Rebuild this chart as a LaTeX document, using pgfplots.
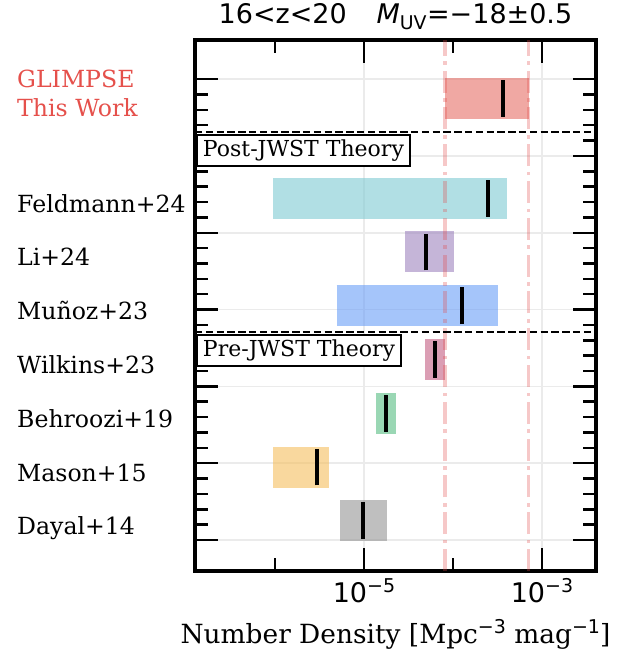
\documentclass[border=0pt]{standalone}
\usepackage{pgfplots}
\pgfplotsset{compat=1.18}
\usepackage{fontspec}
\setmainfont{DejaVu Serif}
\newfontfamily\dvs{DejaVu Sans}
\definecolor{cGL}{RGB}{230,110,102}
\definecolor{cFe}{RGB}{125,202,210}
\definecolor{cLi}{RGB}{158,132,190}
\definecolor{cMu}{RGB}{105,158,247}
\definecolor{cWi}{RGB}{195,93,130}
\definecolor{cBe}{RGB}{87,188,130}
\definecolor{cMa}{RGB}{245,190,93}
\definecolor{cDa}{RGB}{148,148,148}
\definecolor{cRedL}{RGB}{225,72,72}
\definecolor{cTxt}{RGB}{229,80,75}
\newcommand\sups[1]{\raisebox{0.37em}{\dvs\fontsize{19}{19}\selectfont #1}}
\begin{document}
\begin{tikzpicture}
\useasboundingbox (0,0) rectangle (634pt,649pt);
\begin{axis}[
  at={(195pt,78pt)}, anchor=south west,
  scale only axis, width=401pt, height=531pt,
  xmode=log, xmin=1.262e-7, xmax=4.046e-3,
  ymin=-0.404, ymax=6.51,
  xtick={1e-5,1e-3},
  xticklabels={{10\sups{−5}},{10\sups{−3}}},
  minor xtick={1e-6,1e-4},
  ytick={0,1,2,3,4,5,6},
  yticklabels={},
  minor y tick num=4,
  xtick pos=both, ytick pos=both,
  tick align=inside,
  major tick length=23pt, minor tick length=13pt,
  tick style={black, line width=2.5pt},
  axis line style={line width=4pt},
  xmajorgrids, ymajorgrids,
  grid style={color=black!8, line width=1.6pt},
  xticklabel style={font=\dvs\fontsize{27}{32}\selectfont, anchor=base, yshift=-31pt, inner sep=0pt},
  extra y ticks={0.25,0.95,1.65,2.35,3.05,3.75,4.45,6.08,5.69},
  extra y tick labels={Dayal+14,Mason+15,Behroozi+19,Wilkins+23,Muñoz+23,Li+24,Feldmann+24,\textcolor{cTxt}{GLIMPSE},\textcolor{cTxt}{This Work}},
  extra y tick style={major tick length=0pt, grid=none,
    yticklabel style={font=\fontsize{23.6}{28}\selectfont, anchor=base west, xshift=-178pt, yshift=-14pt, inner sep=0pt}},
  title={16<z<20\hspace{1.1em}\textit{M}\textsubscript{UV}=−18±0.5},
  title style={font=\dvs\fontsize{27}{32}\selectfont, at={(axis description cs:0.5,1)}, anchor=base, yshift=10pt, inner sep=0pt},
  xlabel={Number Density [Mpc\sups{−3} mag\sups{−1}]},
  xlabel style={font=\fontsize{26.4}{32}\selectfont, at={(axis description cs:0.5,0)}, anchor=base, yshift=-72pt, inner sep=0pt},
]
% bars: (low, y) -- (high, y)
\addplot[cGL, line width=41pt, draw opacity=0.6] coordinates {(8.13e-5,5.75) (7.08e-4,5.75)};
\addplot[cFe, line width=41pt, draw opacity=0.6] coordinates {(9.51e-7,4.45) (4.05e-4,4.45)};
\addplot[cLi, line width=41pt, draw opacity=0.6] coordinates {(2.89e-5,3.75) (1.03e-4,3.75)};
\addplot[cMu, line width=41pt, draw opacity=0.6] coordinates {(4.93e-6,3.05) (3.23e-4,3.05)};
\addplot[cWi, line width=41pt, draw opacity=0.6] coordinates {(4.84e-5,2.35) (8.13e-5,2.35)};
\addplot[cBe, line width=41pt, draw opacity=0.6] coordinates {(1.36e-5,1.65) (2.29e-5,1.65)};
\addplot[cMa, line width=41pt, draw opacity=0.6] coordinates {(9.57e-7,0.95) (4.05e-6,0.95)};
\addplot[cDa, line width=41pt, draw opacity=0.6] coordinates {(5.42e-6,0.25) (1.80e-5,0.25)};
% medians
\addplot[black, line width=4pt] coordinates {(3.61e-4,5.51) (3.61e-4,5.99)};
\addplot[black, line width=4pt] coordinates {(2.47e-4,4.21) (2.47e-4,4.69)};
\addplot[black, line width=4pt] coordinates {(4.93e-5,3.51) (4.93e-5,3.99)};
\addplot[black, line width=4pt] coordinates {(1.25e-4,2.81) (1.25e-4,3.29)};
\addplot[black, line width=4pt] coordinates {(6.28e-5,2.11) (6.28e-5,2.59)};
\addplot[black, line width=4pt] coordinates {(1.77e-5,1.41) (1.77e-5,1.89)};
\addplot[black, line width=4pt] coordinates {(2.94e-6,0.71) (2.94e-6,1.19)};
\addplot[black, line width=4pt] coordinates {(9.82e-6,0.01) (9.82e-6,0.49)};
% GLIMPSE range lines
\addplot[cRedL, draw opacity=0.3, line width=3.6pt, dash pattern=on 22pt off 5.6pt on 3.6pt off 5.6pt] coordinates {(8.13e-5,-0.404) (8.13e-5,6.51)};
\addplot[cRedL, draw opacity=0.3, line width=3.6pt, dash pattern=on 22pt off 5.6pt on 3.6pt off 5.6pt] coordinates {(7.08e-4,-0.404) (7.08e-4,6.51)};
% separators
\addplot[black, line width=2.2pt, dash pattern=on 7.5pt off 3.3pt] coordinates {(1.262e-7,5.31) (4.046e-3,5.31)};
\addplot[black, line width=2.2pt, dash pattern=on 7.5pt off 3.3pt] coordinates {(1.262e-7,2.71) (4.046e-3,2.71)};
\node[draw=black, line width=2pt, fill=white, anchor=north west, font=\fontsize{22}{26}\selectfont, inner xsep=6pt, inner ysep=4.5pt, xshift=1pt] at (axis cs:1.262e-7,5.282) {Post-JWST Theory};
\node[draw=black, line width=2pt, fill=white, anchor=north west, font=\fontsize{22}{26}\selectfont, inner xsep=6pt, inner ysep=4.5pt, xshift=1pt] at (axis cs:1.262e-7,2.682) {Pre-JWST Theory};
\end{axis}
\end{tikzpicture}
\end{document}
